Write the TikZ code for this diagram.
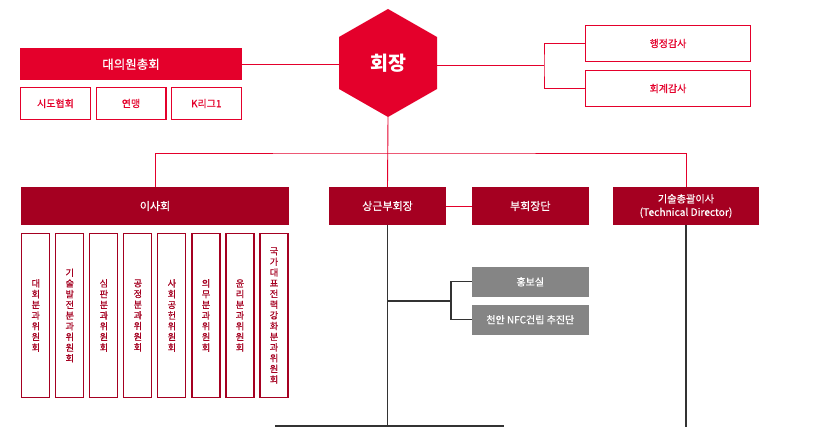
\documentclass[tikz,border=0pt]{standalone}
\usepackage{fontspec}
\setmainfont{Noto Sans CJK KR}
\newfontfamily\medfont{Noto Sans CJK KR}[FakeBold=0.6]
\usetikzlibrary{calc}
\definecolor{kred}{HTML}{E4002B}
\definecolor{kdark}{HTML}{A50021}
\definecolor{kgray}{HTML}{858585}
\definecolor{kline}{HTML}{333333}
\newcommand{\fsz}[2]{\medfont\fontsize{#1}{#2}\selectfont}
\begin{document}
\begin{tikzpicture}[x=1pt,y=-1pt,
  box/.style={rectangle, inner sep=0pt, outer sep=0pt},
  redbar/.style={box, fill=kred, text=white, font=\fsz{12.5}{14}},
  subbox/.style={box, draw=kred, line width=1.3pt, fill=white, text=kred, font=\fsz{10}{12}},
  darkbar/.style={box, fill=kdark, text=white, font=\fsz{11}{13.3}, align=center},
  combox/.style={box, draw=kdark, line width=1.1pt, fill=white, text=kdark, font=\fsz{9.2}{10.7}, align=center, minimum width=28pt, minimum height=164pt},
  graybox/.style={box, fill=kgray, text=white, font=\fsz{10}{12}},
  redline/.style={draw=kred, line width=0.9pt},
  darkline/.style={draw=kline, line width=1.1pt}]
\useasboundingbox (0,0) rectangle (829,427);

% president hexagon
\fill[kred] (388,9) -- (437,37) -- (437,89) -- (388,117) -- (339,89) -- (339,37) -- cycle;
\node[box, text=white, font=\fontsize{19.5}{22}\selectfont\bfseries] (pres) at (388,63) {회장};
\coordinate (presL) at (339,65);
\coordinate (presR) at (437,65);
\coordinate (presB) at (388,117);

% general assembly
\node[redbar, minimum width=222pt, minimum height=32pt] (daeui) at (131,64.2) {대의원총회};
\node[subbox, minimum width=69.7pt, minimum height=31.7pt] (sido) at (55.5,103.5) {시도협회};
\node[subbox, minimum width=69.7pt, minimum height=31.7pt] (yeon) at (131,103.5) {연맹};
\node[subbox, minimum width=69.7pt, minimum height=31.7pt] (kl) at (206.3,103.5) {K리그1};

% auditors
\node[subbox, minimum width=164.7pt, minimum height=35.7pt] (haeng) at (668,43.5) {행정감사};
\node[subbox, minimum width=164.7pt, minimum height=35.7pt] (hoegye) at (668,88.5) {회계감사};
\coordinate (audJ) at (544,65);

% second level
\node[darkbar, minimum width=268pt, minimum height=38pt] (ihsa) at (155,206) {이사회};
\node[darkbar, minimum width=117.6pt, minimum height=38pt] (sang) at (387.5,206) {상근부회장};
\node[darkbar, minimum width=116.7pt, minimum height=38pt] (buhoe) at (530.3,206) {부회장단};
\node[darkbar, minimum width=146pt, minimum height=38pt, font=\fsz{10.2}{13.3}] (tech) at (686,206) {기술총괄이사\\(Technical Director)};
\coordinate (busJ) at (388,153);

% committees
\node[combox] (c1) at (35.8,315.5) {대\\회\\분\\과\\위\\원\\회};
\node[combox] (c2) at (69.8,315.5) {기\\술\\발\\전\\분\\과\\위\\원\\회};
\node[combox] (c3) at (103.9,315.5) {심\\판\\분\\과\\위\\원\\회};
\node[combox] (c4) at (137.9,315.5) {공\\정\\분\\과\\위\\원\\회};
\node[combox] (c5) at (171.9,315.5) {사\\회\\공\\헌\\위\\원\\회};
\node[combox] (c6) at (206.0,315.5) {의\\무\\분\\과\\위\\원\\회};
\node[combox] (c7) at (240.0,315.5) {윤\\리\\분\\과\\위\\원\\회};
\node[combox] (c8) at (274.0,315.5) {국\\가\\대\\표\\전\\력\\강\\화\\분\\과\\위\\원\\회};

% offices
\node[graybox, minimum width=116.7pt, minimum height=29.7pt] (hong) at (530.3,281.8) {홍보실};
\node[graybox, minimum width=116.7pt, minimum height=30pt] (cheon) at (530.3,319.7) {천안 NFC건립 추진단};
\coordinate (brJ) at (451,301);
\coordinate (sangBr) at (387.5,301);
\coordinate (sangBot) at (387.5,426);
\coordinate (botL) at (275,426);
\coordinate (botR) at (504,426);
\coordinate (techBot) at (686,428);

% red connectors
\draw[redline] (daeui.east) -- (daeui.east -| presL);
\draw[redline] (presR) -- (audJ);
\draw[redline] (haeng.west) -| (audJ) |- (hoegye.west);
\draw[redline] (presB) -- (sang.north);
\draw[redline] (ihsa.north) |- (busJ) -| (tech.north);
\draw[redline] (sang.east) -- (buhoe.west);

% dark connectors
\draw[darkline] (sang.south) -- (sangBot);
\draw[darkline] (botL) -- (botR);
\draw[darkline] (tech.south) -- (techBot);
\draw[darkline] (sangBr) -- (brJ);
\draw[darkline] (hong.west) -| (brJ) |- (cheon.west);
\end{tikzpicture}
\end{document}
